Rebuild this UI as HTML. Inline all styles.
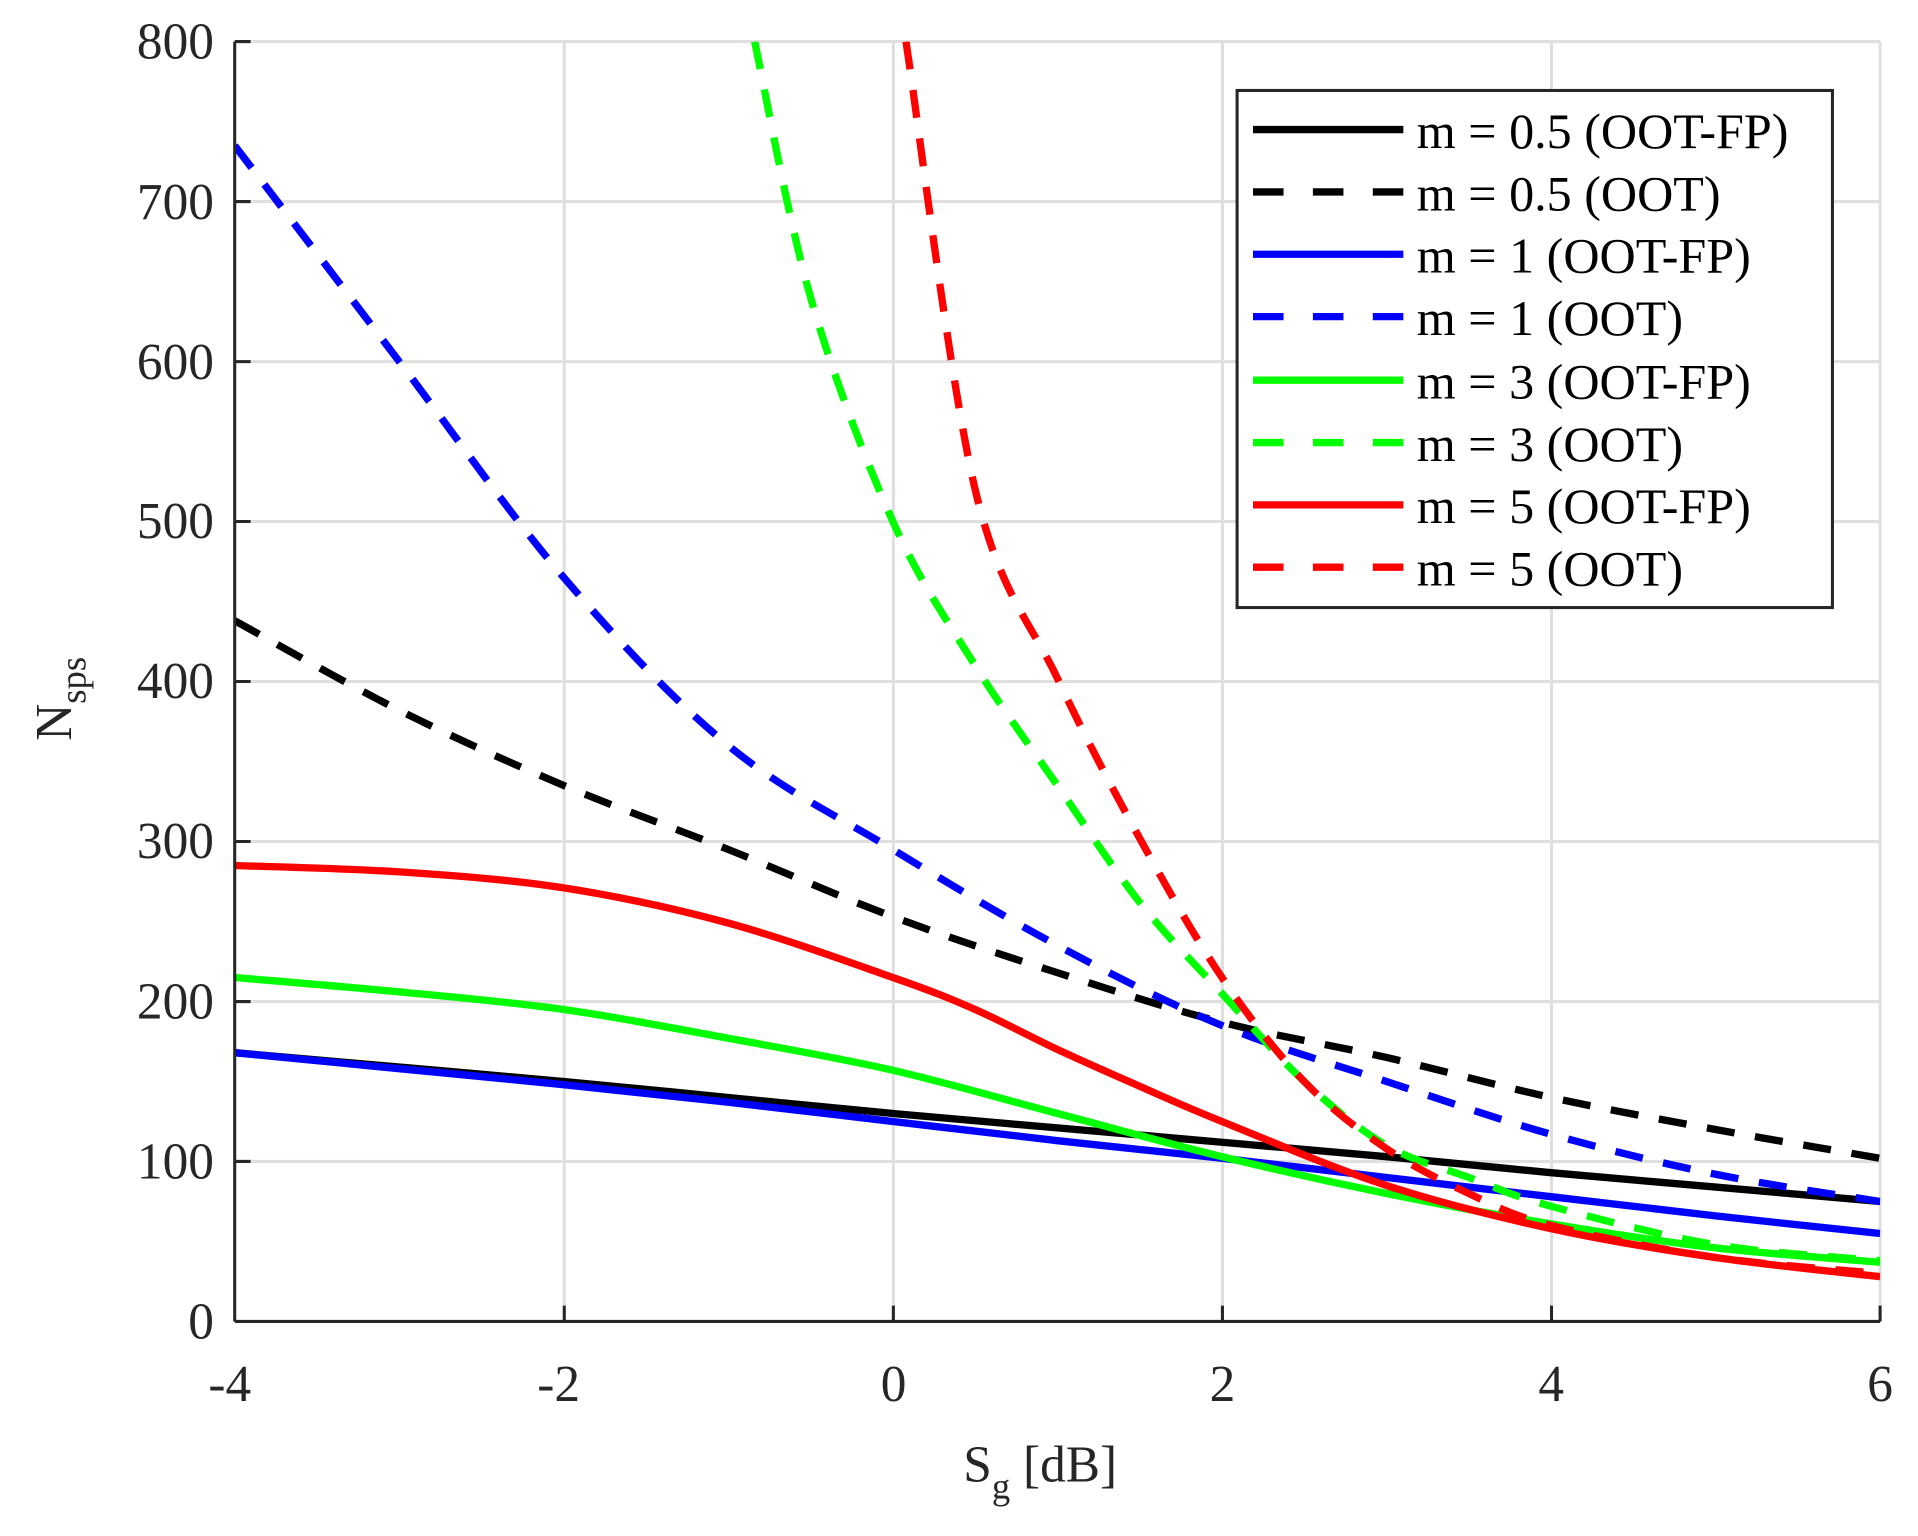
<!DOCTYPE html>
<html><head><meta charset="utf-8"><style>
html,body{margin:0;padding:0;background:#fff;}
svg{display:block;}
text{font-family:"Liberation Serif",serif;fill:#262626;}
</style></head><body>
<svg id="s" width="1918" height="1536" viewBox="0 0 1569 1256.5" preserveAspectRatio="none" xmlns="http://www.w3.org/2000/svg">
<rect x="0" y="0" width="1569" height="1257" fill="#fff"/>
<g stroke="#dfdfdf" stroke-width="2.5">
<line x1="461.6" y1="34" x2="461.6" y2="1081"/>
<line x1="730.8" y1="34" x2="730.8" y2="1081"/>
<line x1="1000" y1="34" x2="1000" y2="1081"/>
<line x1="1269.2" y1="34" x2="1269.2" y2="1081"/>
<line x1="192" y1="950.1" x2="1538" y2="950.1"/>
<line x1="192" y1="819.3" x2="1538" y2="819.3"/>
<line x1="192" y1="688.4" x2="1538" y2="688.4"/>
<line x1="192" y1="557.5" x2="1538" y2="557.5"/>
<line x1="192" y1="426.6" x2="1538" y2="426.6"/>
<line x1="192" y1="295.8" x2="1538" y2="295.8"/>
<line x1="192" y1="164.9" x2="1538" y2="164.9"/>
<line x1="192" y1="34" x2="1538" y2="34"/>
<line x1="1538" y1="34" x2="1538" y2="1081"/>
</g>
<defs><clipPath id="c"><rect x="192" y="34" width="1346" height="1047"/></clipPath></defs>
<g id="curves" clip-path="url(#c)" fill="none" stroke-width="6" stroke-linejoin="round"></g>
<g stroke="#262626" stroke-width="2.5" fill="none">
<line x1="192" y1="34" x2="192" y2="1081"/>
<line x1="192" y1="1081" x2="1538" y2="1081"/>
<path d="M461.6 1081v-13M730.8 1081v-13M1000 1081v-13M1269.2 1081v-13M1538 1081v-13M192 950.1h13M192 819.3h13M192 688.4h13M192 557.5h13M192 426.6h13M192 295.8h13M192 164.9h13M192 34h13"/>
</g>
<g font-size="42" text-anchor="end">
<text x="175" y="1095">0</text>
<text x="175" y="964">100</text>
<text x="175" y="833">200</text>
<text x="175" y="702">300</text>
<text x="175" y="571">400</text>
<text x="175" y="440">500</text>
<text x="175" y="310">600</text>
<text x="175" y="179">700</text>
<text x="175" y="48">800</text>
</g>
<g font-size="42" text-anchor="middle">
<text x="188" y="1146">-4</text>
<text x="457" y="1146">-2</text>
<text x="731" y="1146">0</text>
<text x="1000" y="1146">2</text>
<text x="1269" y="1146">4</text>
<text x="1538" y="1146">6</text>
</g>
<text x="788" y="1212" font-size="42">S<tspan font-size="30" dy="14">g</tspan><tspan dy="-14"> [dB]</tspan></text>
<text transform="translate(58,606) rotate(-90)" font-size="42">N<tspan font-size="30" dy="12">sps</tspan></text>
<rect x="1012" y="74" width="487" height="423" fill="#fff" stroke="#262626" stroke-width="2.5"/>
<g stroke-width="6">
<line x1="1025" y1="106" x2="1148" y2="106" stroke="#000"/>
<line x1="1025" y1="157" x2="1148" y2="157" stroke="#000" stroke-dasharray="25,24"/>
<line x1="1025" y1="208" x2="1148" y2="208" stroke="#0000ff"/>
<line x1="1025" y1="259" x2="1148" y2="259" stroke="#0000ff" stroke-dasharray="25,24"/>
<line x1="1025" y1="311" x2="1148" y2="311" stroke="#00ff00"/>
<line x1="1025" y1="362" x2="1148" y2="362" stroke="#00ff00" stroke-dasharray="25,24"/>
<line x1="1025" y1="413" x2="1148" y2="413" stroke="#ff0000"/>
<line x1="1025" y1="464" x2="1148" y2="464" stroke="#ff0000" stroke-dasharray="25,24"/>
</g>
<g font-size="41">
<text x="1159" y="121" style="fill:#000">m = 0.5 (OOT-FP)</text>
<text x="1159" y="172" style="fill:#000">m = 0.5 (OOT)</text>
<text x="1159" y="223" style="fill:#000">m = 1 (OOT-FP)</text>
<text x="1159" y="274" style="fill:#000">m = 1 (OOT)</text>
<text x="1159" y="326" style="fill:#000">m = 3 (OOT-FP)</text>
<text x="1159" y="377" style="fill:#000">m = 3 (OOT)</text>
<text x="1159" y="428" style="fill:#000">m = 5 (OOT-FP)</text>
<text x="1159" y="479" style="fill:#000">m = 5 (OOT)</text>
</g>
</svg>
<script>
var series=[
["#000",0,[[-4,168],[-3,159],[-2,150],[-1,140],[0,130],[1,121],[2,112],[3,103],[4,93],[5,84],[6,75]]],
["#0000ff",0,[[-4,168],[-3,158],[-2,148],[-1,137],[0,125],[1,113],[2,102],[3,90],[4,78],[5,66],[6,55]]],
["#00ff00",0,[[-4,215],[-3,206],[-2,195],[-1,177],[0,157],[1,130],[2,103],[3,80],[4,61],[5,46],[6,37]]],
["#ff0000",0,[[-4,285],[-3,281],[-2,271],[-1,249],[0,215],[0.5,195],[1,170],[1.5,147],[2,125],[3,85],[4,58],[5,40],[6,28]]],
["#000",1,[[-4,438],[-3,382],[-2,335],[-1,295],[0,253],[1,218],[2,187],[3,165],[4,140],[5,120],[6,102]]],
["#0000ff",1,[[-4,735],[-3,600],[-2,465],[-1,360],[0,295],[1,235],[2,185],[3,150],[4,117],[5,92],[6,75]]],
["#00ff00",1,[[-0.84,800],[-0.5,640],[0,500],[0.5,410],[1,335],[1.5,262],[2,205],[2.5,150],[3,110],[3.5,90],[4,72],[5,48],[6,38]]],
["#ff0000",1,[[0.08,800],[0.5,520],[1,402],[1.5,302],[2,215],[2.5,150],[3,108],[3.5,80],[4,60],[5,40],[6,30]]]
];
function X(x){return 192+134.6*(x+4);}
function Y(v){return 1081-1.30875*v;}
var g=document.getElementById('curves');
series.forEach(function(s){
 var p=s[2].map(function(q){return [X(q[0]),Y(q[1])];});
 var d="M"+p[0][0]+" "+p[0][1];
 for(var i=0;i<p.length-1;i++){
  var p0=p[i-1]||p[i],p1=p[i],p2=p[i+1],p3=p[i+2]||p[i+1];
  var c1=[p1[0]+(p2[0]-p0[0])/6,p1[1]+(p2[1]-p0[1])/6];
  var c2=[p2[0]-(p3[0]-p1[0])/6,p2[1]-(p3[1]-p1[1])/6];
  d+=" C"+c1[0]+" "+c1[1]+" "+c2[0]+" "+c2[1]+" "+p2[0]+" "+p2[1];
 }
 var e=document.createElementNS("http://www.w3.org/2000/svg","path");
 e.setAttribute("d",d);e.setAttribute("stroke",s[0]);
 if(s[1])e.setAttribute("stroke-dasharray","23,17");
 g.appendChild(e);
});
</script>
</body></html>
